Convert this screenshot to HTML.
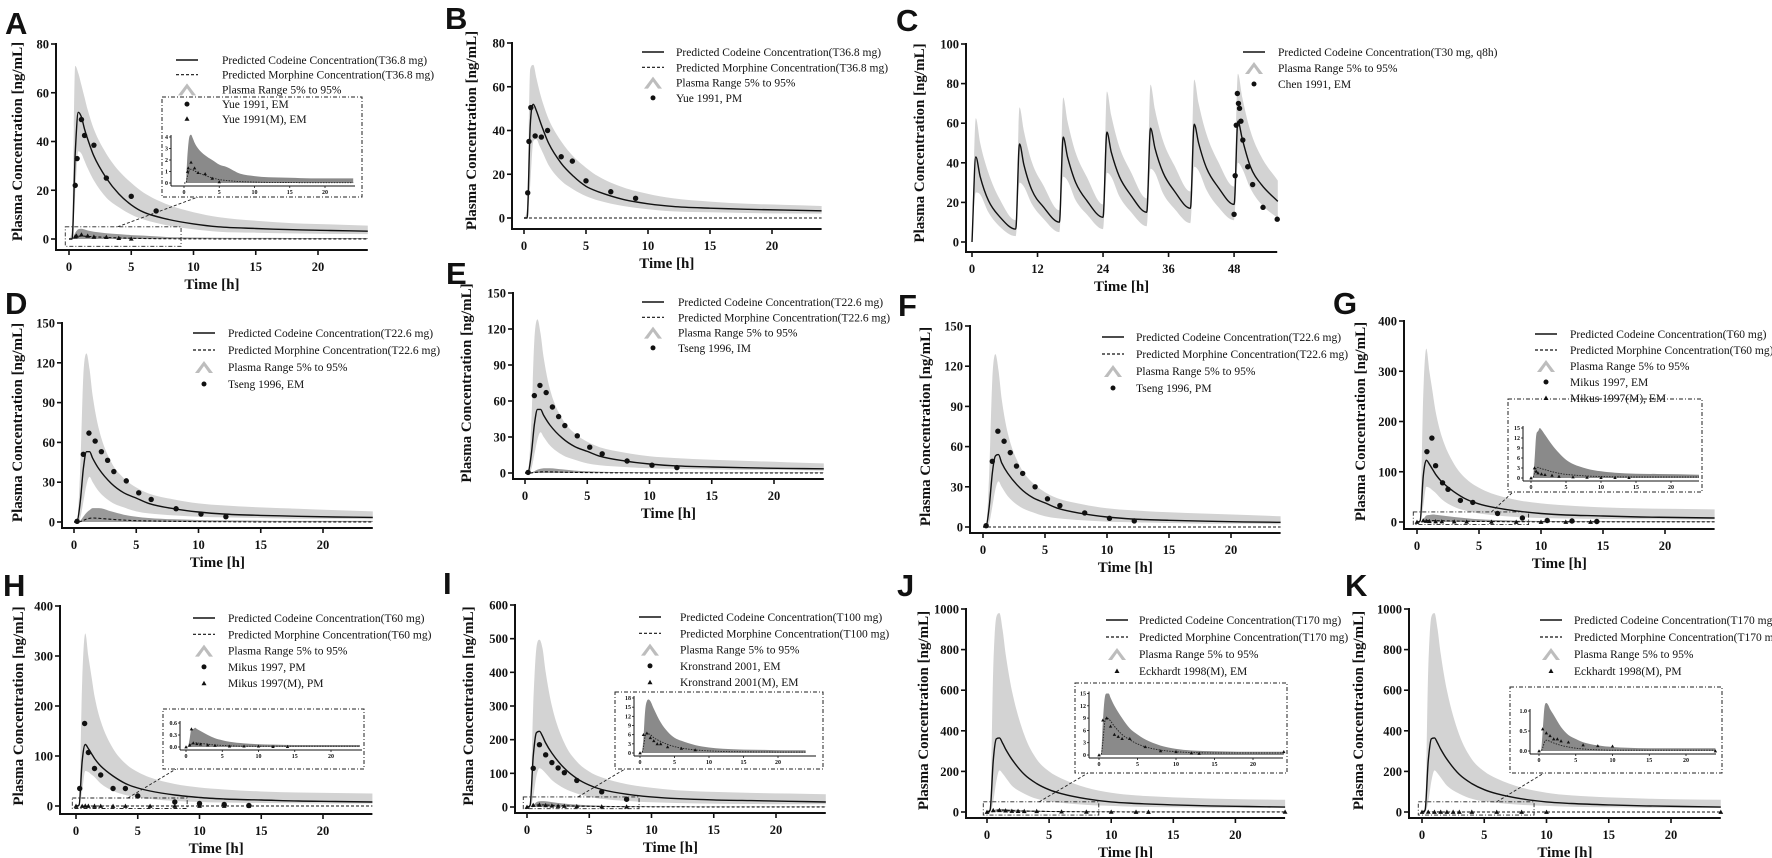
<!DOCTYPE html>
<html><head><meta charset="utf-8"><title>Codeine PBPK panels</title>
<style>
html,body{margin:0;padding:0;background:#fff;}
svg{display:block;}
text{font-family:"Liberation Serif",serif;fill:#111;}
.lt{font-family:"Liberation Sans",sans-serif;font-weight:bold;font-size:31px;}
.tk{font-weight:bold;font-size:12.5px;}
.ttl{font-weight:bold;font-size:15px;}
.lg{font-size:11.5px;}
.itk{font-weight:bold;font-size:6px;}
</style></head>
<body>
<svg id="fig" xmlns="http://www.w3.org/2000/svg" width="1772" height="858" viewBox="0 0 1772 858"></svg>
<script>
// ---------- DATA ----------
const T = [0,0.25,0.5,0.75,1,1.25,1.5,2,3,4,5,6,8,10,12,15,18,21,24];

const A_cod = [0,0,35,52,50,45,41,34,25,18.5,14,11,8,6.2,5,4.3,3.8,3.5,3.2];
const A_up  = [0,5,71,68,63,58,53,45,35,28,23,19,14,11,9,7.5,6.5,6,5.5];
const A_lo  = [0,0,18,36,35,32,29,24,17,13,10,8,5.5,4,3,2.6,2.3,2.1,2];
const A_mor = [0,0,0.6,1.1,1.2,1.15,1.05,0.9,0.65,0.45,0.3,0.22,0.12,0.08,0.05,0.04,0.03,0.03,0.03];
const A_mup = [0,0,2.5,4,4.2,3.9,3.5,3,2.4,2,1.6,1.4,0.8,0.6,0.5,0.45,0.4,0.4,0.4];
const A_obsT = [0.5,0.65,1,1.25,2,3,5,7];
const A_obsV = [22,33,49,42.5,38.5,25,17.5,11.5];
const A_mobsT = [0.5,0.6,1,1.5,2,3,4,5];
const A_mobsV = [1,1.3,1.8,1.3,0.9,0.8,0.4,0.1];

const B_cod = [0,0,42,52,49,45,41,34,25,19,14.5,12,8.5,6.5,5.3,4.5,4,3.6,3.3];
const B_up  = [0,5,68,70,64,58,53,45,35,28,23,19,14,11,9,7.5,6.5,6,5.5];
const B_lo  = [0,0,15,35,36,33,30,24,17,13,10,8,5.5,4,3,2.6,2.3,2.1,2];
const B_mor = [0,0,0,0,0,0,0,0,0,0,0,0,0,0,0,0,0,0,0];
const B_obsT = [0.3,0.4,0.55,0.9,1.4,1.9,3,3.9,5,7,9];
const B_obsV = [11.5,35,50.5,37.5,37,40,28,26,17,12,9];

const C_t   = [0,0.7,1.5,3,5,8, 8.7,9.5,11,13,16, 16.7,17.5,19,21,24, 24.7,25.5,27,29,32, 32.7,33.5,35,37,40, 40.7,41.5,43,45,48, 48.7,49.5,51,53,56];
const C_cod = [0,43,33,21,13,6.5, 49.5,39,26,18,10, 53,43,30,21,12.5, 55.5,45.5,33,24,15, 57.5,47.5,35,26,17, 59.5,50,37,28,19, 61,52,38,29,20.5];
const C_up  = [0,62.5,50,35,22,11, 68,56,40,29,16, 73,61,45,33,19, 76,64,48,36,22, 79.5,67,51,39,25.5, 82,70,54,41,28, 85,73,56,43,31];
const C_lo  = [0,25,24,15,8,3, 30,28,19,12,5, 33,31,21,14,6.5, 35,33,23,15.5,8, 37,35,24.5,17,9.5, 38,36,26,18,11, 40,37,27,19,12];
const C_obsT = [48,48.2,48.4,48.6,48.8,49,49.25,49.6,50.5,51.4,53.3,55.9];
const C_obsV = [14,33.5,59,75,70,67.5,61,51.5,38,29,17.5,11.5];

const D_cod = [0,0.5,15,40,53,53,48,40,29,22,18,14,10,7.5,6,5,4.3,3.8,3.5];
const D_up  = [0,2,40,110,127,115,95,70,45,33,26,21.5,17,14,12.5,11,10,9,8];
const D_lo  = [0,0,3,15,28,34,30,23,15,11,8,6.5,5,4,3.5,3,2.5,2.5,2];
const D_mor = [0,0,0.3,1.2,2.2,2.8,3,2.8,2,1.4,1,0.8,0.5,0.3,0.2,0.1,0.1,0.1,0.1];
const D_mup = [0,0,1,4,7,9,10.5,10.5,8,5.5,4,3,2,1.5,1.2,1,0.8,0.8,0.8];
const D_obsT = [0.25,0.75,1.2,1.7,2.2,2.7,3.2,4.2,5.2,6.2,8.2,10.2,12.2];
const D_obsV = [0.5,51,67,61,53,46.5,38,31,22,17,10,6,4];

const E_cod = [0,0.5,15,40,53,53,48,40,29,22,18,14,10,7.5,6,5,4.3,3.8,3.5];
const E_up  = [0,2,40,110,128,116,96,70,45,33,26,21.5,17,14,12.5,11,10,9,8];
const E_lo  = [0,0,3,15,28,34,30,23,15,11,8,6.5,5,4,3.5,3,2.5,2.5,2];
const E_mor = [0,0,0.1,0.4,0.7,0.9,1,0.95,0.7,0.5,0.35,0.25,0.15,0.1,0.08,0.05,0.05,0.05,0.05];
const E_mup = [0,0,0.5,1.5,2.8,3.5,4,4,3,2,1.5,1.1,0.7,0.5,0.4,0.3,0.3,0.3,0.3];
const E_obsT = [0.25,0.75,1.2,1.7,2.2,2.7,3.2,4.2,5.2,6.2,8.2,10.2,12.2];
const E_obsV = [0.5,64.5,73,67,55,47,39.5,31,21.5,16,10,6.5,4.5];

const F_cod = [0,0.5,15,40,53,54,48,40,29,22,18,14,10,7.5,6,5,4.3,3.8,3.5];
const F_up  = [0,2,40,110,129,117,96,70,45,33,26,21.5,17,14,12.5,11,10,9,8];
const F_lo  = [0,0,3,15,28,34,30,23,15,11,8,6.5,5,4,3.5,3,2.5,2.5,2];
const F_mor = [0,0,0,0,0,0,0,0,0,0,0,0,0,0,0,0,0,0,0];
const F_obsT = [0.25,0.75,1.2,1.7,2.2,2.7,3.2,4.2,5.2,6.2,8.2,10.2,12.2];
const F_obsV = [1,49,71.5,64,55.5,45.5,40,30,21,16,10.5,6.5,4.5];

const G_cod = [0,2,90,123,115,105,95,80,60,45,36,30,22,17,14,12,10,9,8];
const G_up  = [0,5,250,345,300,260,220,170,115,85,68,57,44,37,33,29,27,26,25];
const G_lo  = [0,0,30,70,68,63,58,45,30,22,17,14,10,8,7,6,5.5,5,5];
const G_mor = [0,0,1.5,3,3.2,3,2.8,2.5,1.9,1.4,1.1,0.9,0.6,0.45,0.35,0.3,0.3,0.3,0.3];
const G_mup = [0,0,5,13,14,15,14.5,13,10,7.5,5.5,4.2,2.8,2,1.6,1.3,1.2,1.1,1];
const G_obsT = [0.8,1.2,1.5,2.06,2.5,3.5,4.5,6.5,8.5,10.5,12.5,14.5];
const G_obsV = [140,167,112,78,65,43,39,17,8,3,2,1];
const G_mobsT = [0,0.5,0.75,1,1.5,2,3,4,6,8,10,12,14];
const G_mobsV = [0,3,2,1.5,1.2,1,0.8,0.5,0.3,0.2,0.1,0.1,0.1];

const H_cod = [0,2,90,123,115,105,95,80,60,45,36,30,22,17,14,12,10,9,8];
const H_up  = [0,5,250,345,300,260,220,170,115,85,68,57,44,37,33,29,27,26,25];
const H_lo  = [0,0,30,70,68,63,58,45,30,22,17,14,10,8,7,6,5.5,5,5];
const H_mor = [0,0,0.03,0.08,0.1,0.1,0.1,0.09,0.07,0.05,0.04,0.03,0.02,0.02,0.02,0.02,0.02,0.02,0.02];
const H_mup = [0,0,0.2,0.45,0.45,0.48,0.45,0.4,0.3,0.22,0.17,0.13,0.09,0.07,0.06,0.05,0.05,0.05,0.05];
const H_obsT = [0.3,0.7,1,1.5,2,3,4,5,8,10,12,14];
const H_obsV = [35,165,107,75,62,35,35,20,8,5,3,1];
const H_mobsT = [0,0.5,0.75,1,1.5,2,3,4,6,8,10,12,14];
const H_mobsV = [0,0.05,0.45,0.1,0.08,0.07,0.05,0.04,0.02,0.02,0.02,0.01,0.01];

const I_cod = [0,5,150,220,225,210,190,160,115,85,65,52,38,30,25,21,19,17,15];
const I_up  = [0,10,300,470,497,470,400,300,190,135,105,88,68,57,50,45,42,40,38];
const I_lo  = [0,0,30,90,115,110,100,80,55,40,30,24,18,14,12,10,9,8,8];
const I_mor = [0,0,2,5.5,6.5,6.3,6,5,3.8,2.8,2.1,1.6,1,0.7,0.5,0.4,0.35,0.3,0.3];
const I_mup = [0,0,5,14,17,17.5,17,14.5,10,7,5,4,2.6,1.8,1.4,1.1,1,0.9,0.9];
const I_obsT = [0.5,1,1.5,2,2.5,3,4,6,8];
const I_obsV = [115,185,155,132,116,102,79,45,23];
const I_mobsT = [0,0.5,1,1.5,2,2.5,3,4,6,8];
const I_mobsV = [0,6,6.5,5,4,3,3,2,1.5,1];

const J_cod = [0,10,250,360,365,340,310,260,185,140,110,90,65,50,42,35,30,27,24];
const J_up  = [0,20,700,960,980,900,780,600,380,260,200,165,120,95,82,72,66,62,60];
const J_lo  = [0,0,50,150,205,190,170,130,90,65,52,45,35,30,26,23,21,20,20];
const J_mor = [0,0,3,8,9,8.8,8.3,7,5,3.7,2.7,2,1.2,0.8,0.6,0.5,0.5,0.5,0.5];
const J_mup = [0,0,8,14,15,15,14,12,9,6.5,5,3.8,2.3,1.5,1.1,0.9,0.8,0.8,0.8];
const J_mobsT = [0,0.5,1,1.5,2,2.5,3,4,6,8,10,12,13,24];
const J_mobsV = [0,8.5,9,7,5,4.5,4,4,2,1,0.8,0.5,0.4,0.8];

const K_cod = [0,10,250,360,365,340,310,260,185,140,110,90,65,50,42,35,30,27,24];
const K_up  = [0,20,700,960,980,900,780,600,380,260,200,165,120,95,82,72,66,62,60];
const K_lo  = [0,0,50,150,205,190,170,130,90,65,52,45,35,30,26,23,21,20,20];
const K_mor = [0,0,0.08,0.22,0.27,0.26,0.24,0.2,0.14,0.1,0.07,0.05,0.03,0.02,0.02,0.02,0.02,0.02,0.02];
const K_mup = [0,0,0.5,1.1,1.2,1.15,1.05,0.9,0.6,0.4,0.3,0.22,0.14,0.1,0.08,0.07,0.07,0.07,0.07];
const K_mobsT = [0,0.5,1,1.5,2,2.5,3,4,6,8,10,24];
const K_mobsV = [0,0.55,0.45,0.38,0.3,0.3,0.25,0.22,0.15,0.13,0.12,0];

// ---------- RENDERING ----------
const NS = 'http://www.w3.org/2000/svg';
const svg = document.getElementById('fig');
function mk(tag, attrs, parent){
  const e = document.createElementNS(NS, tag);
  for (const k in attrs) e.setAttribute(k, attrs[k]);
  (parent||svg).appendChild(e);
  return e;
}
function mono(pts){
  const n = pts.length;
  if (n < 2) return '';
  const d = [], m = [];
  for (let i=0;i<n-1;i++){ const dx = pts[i+1][0]-pts[i][0]; d.push(dx===0?0:(pts[i+1][1]-pts[i][1])/dx); }
  m[0] = d[0]; m[n-1] = d[n-2];
  for (let i=1;i<n-1;i++) m[i] = (d[i-1]*d[i] <= 0) ? 0 : (d[i-1]+d[i])/2;
  for (let i=0;i<n-1;i++){
    if (d[i]===0){ m[i]=0; m[i+1]=0; continue; }
    const a = m[i]/d[i], b = m[i+1]/d[i], s = a*a+b*b;
    if (s > 9){ const tau = 3/Math.sqrt(s); m[i]=tau*a*d[i]; m[i+1]=tau*b*d[i]; }
  }
  let p = 'M'+pts[0][0].toFixed(1)+','+pts[0][1].toFixed(1);
  for (let i=0;i<n-1;i++){
    const h = pts[i+1][0]-pts[i][0];
    p += 'C'+(pts[i][0]+h/3).toFixed(1)+','+(pts[i][1]+m[i]*h/3).toFixed(1)+' '+
         (pts[i+1][0]-h/3).toFixed(1)+','+(pts[i+1][1]-m[i+1]*h/3).toFixed(1)+' '+
         pts[i+1][0].toFixed(1)+','+pts[i+1][1].toFixed(1);
  }
  return p;
}
function bandPath(ts, up, lo, X, Y){
  const u = ts.map((t,i)=>[X(t),Y(up[i])]);
  const l = ts.map((t,i)=>[X(t),Y(lo[i])]).reverse();
  return mono(u) + 'L' + mono(l).slice(1) + 'Z';
}
function tri(g, x, y, s){
  return mk('polygon', {points:(x-s)+','+(y+s*0.8)+' '+(x+s)+','+(y+s*0.8)+' '+x+','+(y-s), fill:'#111'}, g);
}

const LEG_COD = 'Predicted Codeine Concentration';
const LEG_MOR = 'Predicted Morphine Concentration';

const panels = [
 {id:'A', letter:[5,34], yx:56, x0:69, pph:12.45, tmax:24, y0:239, ytop:44, ymax:80, xline:250, yt:[0,20,40,60,80], xt:[0,5,10,15,20], ytx:17,
  cod:A_cod, up:A_up, lo:A_lo, mor:A_mor, mup:A_mup, oT:A_obsT, oV:A_obsV, mT:A_mobsT, mV:A_mobsV,
  leg:{sx:176, tx:222, y:60, dy:14.7, dose:'T36.8 mg', items:['cod','mor','band','dot','tri'], dot:'Yue 1991, EM', tri:'Yue 1991(M), EM'},
  inset:{bx:162,by:97,bw:200,bh:100, ax:171, x0:184, pph:7.05, xend:355, y0:183, ytop:137, ymax:4, yt:[0,1,2,3,4], src:[-0.3,9,-3,5], ct:3.9, cx:198, cy:197}},
 {id:'B', letter:[445,29], yx:512, x0:524, pph:12.4, tmax:24, y0:218, ytop:43, ymax:80, xline:229, yt:[0,20,40,60,80], xt:[0,5,10,15,20], ytx:471,
  cod:B_cod, up:B_up, lo:B_lo, mor:B_mor, oT:B_obsT, oV:B_obsV,
  leg:{sx:642, tx:676, y:52, dy:15.3, dose:'T36.8 mg', items:['cod','mor','band','dot'], dot:'Yue 1991, PM'}},
 {id:'C', letter:[896,31], yx:966, x0:972, pph:5.46, tmax:55.9, y0:242, ytop:44, ymax:100, xline:252, yt:[0,20,40,60,80,100], xt:[0,12,24,36,48], ytx:919, ts:C_t,
  cod:C_cod, up:C_up, lo:C_lo, oT:C_obsT, oV:C_obsV,
  leg:{sx:1243, tx:1278, y:52, dy:16, items:['codC','band','dot'], dot:'Chen 1991, EM'}},
 {id:'D', letter:[5,314], yx:62, x0:74, pph:12.45, tmax:24, y0:522, ytop:323, ymax:150, xline:528, yt:[0,30,60,90,120,150], xt:[0,5,10,15,20], ytx:17,
  cod:D_cod, up:D_up, lo:D_lo, mor:D_mor, mup:D_mup, oT:D_obsT, oV:D_obsV,
  leg:{sx:193, tx:228, y:333, dy:17, dose:'T22.6 mg', items:['cod','mor','band','dot'], dot:'Tseng 1996, EM'}},
 {id:'E', letter:[446,284], yx:513, x0:525, pph:12.45, tmax:24, y0:473, ytop:293, ymax:150, xline:479, yt:[0,30,60,90,120,150], xt:[0,5,10,15,20], ytx:466,
  cod:E_cod, up:E_up, lo:E_lo, mor:E_mor, mup:E_mup, oT:E_obsT, oV:E_obsV,
  leg:{sx:642, tx:678, y:302, dy:15.3, dose:'T22.6 mg', items:['cod','mor','band','dot'], dot:'Tseng 1996, IM'}},
 {id:'F', letter:[898,316], yx:970, x0:983, pph:12.4, tmax:24, y0:527, ytop:326, ymax:150, xline:533, yt:[0,30,60,90,120,150], xt:[0,5,10,15,20], ytx:925,
  cod:F_cod, up:F_up, lo:F_lo, mor:F_mor, oT:F_obsT, oV:F_obsV,
  leg:{sx:1102, tx:1136, y:337, dy:17, dose:'T22.6 mg', items:['cod','mor','band','dot'], dot:'Tseng 1996, PM'}},
 {id:'G', letter:[1333,314], yx:1404, x0:1417, pph:12.4, tmax:24, y0:522, ytop:321, ymax:400, xline:529, yt:[0,100,200,300,400], xt:[0,5,10,15,20], ytx:1360,
  cod:G_cod, up:G_up, lo:G_lo, mor:G_mor, mup:G_mup, oT:G_obsT, oV:G_obsV, mT:G_mobsT, mV:G_mobsV,
  leg:{sx:1535, tx:1570, y:334, dy:16, dose:'T60 mg', items:['cod','mor','band','dot','tri'], dot:'Mikus 1997, EM', tri:'Mikus 1997(M), EM'},
  inset:{bx:1508,by:399,bw:194,bh:93, ax:1523, x0:1531, pph:7.0, xend:1699, y0:478, ytop:428, ymax:15, yt:[0,3,6,9,12,15], src:[-0.3,9,-5,20], ct:6, cx:1513, cy:492}},
 {id:'H', letter:[3,596], yx:60, x0:76, pph:12.35, tmax:24, y0:806, ytop:606, ymax:400, xline:814, yt:[0,100,200,300,400], xt:[0,5,10,15,20], ytx:18,
  cod:H_cod, up:H_up, lo:H_lo, mor:H_mor, mup:H_mup, oT:H_obsT, oV:H_obsV, mT:H_mobsT, mV:H_mobsV,
  leg:{sx:193, tx:228, y:618, dy:16.3, dose:'T60 mg', items:['cod','mor','band','dot','tri'], dot:'Mikus 1997, PM', tri:'Mikus 1997(M), PM'},
  inset:{bx:163,by:709,bw:201,bh:60, ax:180, x0:186, pph:7.25, xend:362, y0:747, ytop:723, ymax:0.6, yt:[0,0.3,0.6], src:[-0.3,9,-5,16], ct:4.2, cx:176, cy:769}},
 {id:'I', letter:[443,594], yx:515, x0:527, pph:12.45, tmax:24, y0:807, ytop:605, ymax:600, xline:813, yt:[0,100,200,300,400,500,600], xt:[0,5,10,15,20], ytx:468,
  cod:I_cod, up:I_up, lo:I_lo, mor:I_mor, mup:I_mup, oT:I_obsT, oV:I_obsV, mT:I_mobsT, mV:I_mobsV,
  leg:{sx:639, tx:680, y:617, dy:16.3, dose:'T100 mg', items:['cod','mor','band','dot','tri'], dot:'Kronstrand 2001, EM', tri:'Kronstrand 2001(M), EM'},
  inset:{bx:615,by:692,bw:208,bh:77, ax:634, x0:640, pph:6.9, xend:816, y0:753, ytop:698, ymax:18, yt:[0,3,6,9,12,15,18], src:[-0.3,9,-5,30], ct:4.1, cx:625, cy:769}},
 {id:'J', letter:[897,596], yx:966, x0:987, pph:12.42, tmax:24, y0:812, ytop:609, ymax:1000, xline:818, yt:[0,200,400,600,800,1000], xt:[0,5,10,15,20], ytx:923,
  cod:J_cod, up:J_up, lo:J_lo, mor:J_mor, mup:J_mup, mT:J_mobsT, mV:J_mobsV,
  leg:{sx:1106, tx:1139, y:620, dy:17, dose:'T170 mg', items:['cod','mor','band','tri'], tri:'Eckhardt 1998(M), EM'},
  inset:{bx:1075,by:683,bw:212,bh:90, ax:1089, x0:1099, pph:7.7, xend:1283, y0:755, ytop:693.5, ymax:15, yt:[0,3,6,9,12,15], src:[-0.3,9,-15,50], ct:4.2, cx:1088, cy:773}},
 {id:'K', letter:[1345,596], yx:1409, x0:1422, pph:12.45, tmax:24, y0:812, ytop:609, ymax:1000, xline:818, yt:[0,200,400,600,800,1000], xt:[0,5,10,15,20], ytx:1358,
  cod:K_cod, up:K_up, lo:K_lo, mor:K_mor, mup:K_mup, mT:K_mobsT, mV:K_mobsV,
  leg:{sx:1540, tx:1574, y:620, dy:17, dose:'T170 mg', items:['cod','mor','band','tri'], tri:'Eckhardt 1998(M),  PM'},
  inset:{bx:1510,by:687,bw:212,bh:86, ax:1530, x0:1539, pph:7.35, xend:1716, y0:751, ytop:711, ymax:1.0, yt:[0,0.5,1.0], src:[-0.3,9,-15,50], ct:6, cx:1544, cy:773}}
];

function drawInset(p, g, X, Y){
  const I = p.inset;
  const Xi = t => I.x0 + t*I.pph;
  const Yi = v => I.y0 - v*(I.y0-I.ytop)/I.ymax;
  const s = I.src;
  const sr = mk('rect', {x:X(s[0]), y:Y(s[3]), width:X(s[1])-X(s[0]), height:Y(s[2])-Y(s[3]), fill:'none', stroke:'#222', 'stroke-width':0.9, 'stroke-dasharray':'4,2,1,2'}, g);
  
  
  const cl = mk('line', {x1:X(I.ct), y1:Y(s[3]), x2:I.cx, y2:I.cy, stroke:'#222', 'stroke-width':0.9, 'stroke-dasharray':'3,2'}, g);
  
  
  const ig = mk('g', {}, g);
  
  
  const box = mk('rect', {x:I.bx, y:I.by, width:I.bw, height:I.bh, fill:'#fff', stroke:'#222', 'stroke-width':1, 'stroke-dasharray':'4,2,1,2'}, ig);
  
  
  const zero = T.map(()=>0);
  const db = mk('path', {d:bandPath(T, p.mup, zero, Xi, Yi), fill:'#8a8a8a'}, ig);
  
  
  const ml = mk('path', {d:mono(T.map((t,i)=>[Xi(t),Yi(p.mor[i])])), fill:'none', stroke:'#222', 'stroke-width':0.9, 'stroke-dasharray':'1.5,1.2'}, ig);
  
  
  if (p.mT) p.mT.forEach((t,i)=>{
    const tr = tri(ig, Xi(t), Yi(p.mV[i]), 1.7);
    
    
  });
  const xl = I.y0 + 3;
  const ya = mk('line', {x1:I.ax, y1:xl, x2:I.ax, y2:I.ytop-2, stroke:'#111', 'stroke-width':1}, ig);
  
  
  const xa = mk('line', {x1:I.ax, y1:xl, x2:I.xend, y2:xl, stroke:'#111', 'stroke-width':1}, ig);
  
  
  I.yt.forEach(v=>{
    mk('line', {x1:I.ax-2, y1:Yi(v), x2:I.ax, y2:Yi(v), stroke:'#111', 'stroke-width':0.8}, ig);
    const tl = mk('text', {x:I.ax-3, y:Yi(v)+2, 'text-anchor':'end', class:'itk'}, ig);
    tl.textContent = (I.ymax < 2) ? v.toFixed(1) : String(v);
    
    
  });
  [0,5,10,15,20].forEach(t=>{
    mk('line', {x1:Xi(t), y1:xl, x2:Xi(t), y2:xl+2, stroke:'#111', 'stroke-width':0.8}, ig);
    const tl = mk('text', {x:Xi(t), y:xl+8, 'text-anchor':'middle', class:'itk'}, ig);
    tl.textContent = String(t);
    
    
  });
}

function drawLegend(p, g){
  const L = p.leg;
  const lg = mk('g', {}, g);
  
  
  L.items.forEach((it, k)=>{
    const y = L.y + k*L.dy;
    const cx = L.sx + 11;
    let label = '';
    if (it==='cod' || it==='codC'){
      mk('line', {x1:L.sx, y1:y, x2:L.sx+22, y2:y, stroke:'#111', 'stroke-width':1.4}, lg);
      label = it==='cod' ? LEG_COD+'('+L.dose+')' : 'Predicted Codeine Concentration(T30 mg, q8h)';
    } else if (it==='mor'){
      mk('line', {x1:L.sx, y1:y, x2:L.sx+22, y2:y, stroke:'#111', 'stroke-width':1.2, 'stroke-dasharray':'3,2'}, lg);
      label = LEG_MOR+'('+L.dose+')';
    } else if (it==='band'){
      mk('polygon', {points:(cx-9)+','+(y+6)+' '+cx+','+(y-6)+' '+(cx+9)+','+(y+6)+' '+(cx+5)+','+(y+6)+' '+cx+','+(y-1)+' '+(cx-5)+','+(y+6), fill:'#bdbdbd'}, lg);
      label = 'Plasma Range 5% to 95%';
    } else if (it==='dot'){
      mk('circle', {cx:cx, cy:y, r:2.5, fill:'#111'}, lg);
      label = L.dot;
    } else if (it==='tri'){
      tri(lg, cx, y, 2.5);
      label = L.tri;
    }
    const t = mk('text', {x:L.tx, y:y+4, class:'lg'}, lg);
    t.textContent = label;
    
    
  });
}

panels.forEach(p=>{
  const g = mk('g', {});
  
  
  const ts = p.ts || T;
  const X = t => p.x0 + t*p.pph;
  const Y = v => p.y0 - v*(p.y0-p.ytop)/p.ymax;
  const xend = X(p.tmax);

  const lt = mk('text', {x:p.letter[0], y:p.letter[1], class:'lt'}, g);
  lt.textContent = p.id;
  
  

  const band = mk('path', {d:bandPath(ts, p.up, p.lo, X, Y), fill:'#d3d3d3'}, g);
  
  

  if (p.mup){
    const zero = T.map(()=>0);
    const mb = mk('path', {d:bandPath(T, p.mup, zero, X, Y), fill:'#9a9a9a'}, g);
    
    
  }
  if (p.mor){
    const ml = mk('path', {d:mono(T.map((t,i)=>[X(t),Y(p.mor[i])])), fill:'none', stroke:'#111', 'stroke-width':1.1, 'stroke-dasharray':'3,2'}, g);
    
    
  }
  const cl = mk('path', {d:mono(ts.map((t,i)=>[X(t),Y(p.cod[i])])), fill:'none', stroke:'#111', 'stroke-width':1.4}, g);
  
  

  if (p.inset) drawInset(p, g, X, Y);

  if (p.oT) p.oT.forEach((t,i)=>{
    const c = mk('circle', {cx:X(t), cy:Y(p.oV[i]), r:2.7, fill:'#111'}, g);
    
    
  });
  if (p.mT) p.mT.forEach((t,i)=>{
    const tr = tri(g, X(t), Y(p.mV[i]), 2.4);
    
    
  });

  const ya = mk('line', {x1:p.yx, y1:p.xline+1, x2:p.yx, y2:p.ytop-1, stroke:'#111', 'stroke-width':2}, g);
  
  
  const xa = mk('line', {x1:p.yx-1, y1:p.xline, x2:xend, y2:p.xline, stroke:'#111', 'stroke-width':2}, g);
  
  
  p.yt.forEach(v=>{
    mk('line', {x1:p.yx-5, y1:Y(v), x2:p.yx, y2:Y(v), stroke:'#111', 'stroke-width':1.6}, g);
    const tl = mk('text', {x:p.yx-7, y:Y(v)+4.5, 'text-anchor':'end', class:'tk'}, g);
    tl.textContent = String(v);
    
    
  });
  p.xt.forEach(t=>{
    mk('line', {x1:X(t), y1:p.xline, x2:X(t), y2:p.xline+5, stroke:'#111', 'stroke-width':1.6}, g);
    const tl = mk('text', {x:X(t), y:p.xline+21, 'text-anchor':'middle', class:'tk'}, g);
    tl.textContent = String(t);
    
    
  });
  const xt = mk('text', {x:(p.yx+xend)/2, y:p.xline+39, 'text-anchor':'middle', class:'ttl'}, g);
  xt.textContent = 'Time [h]';
  
  
  const cy = (p.ytop+p.y0)/2;
  const yt = mk('text', {x:p.ytx, y:cy, 'text-anchor':'middle', class:'ttl', transform:'rotate(-90 '+p.ytx+' '+cy+')', dy:'5'}, g);
  yt.textContent = 'Plasma Concentration [ng/mL]';
  
  

  drawLegend(p, g);
});
</script>
</body></html>
